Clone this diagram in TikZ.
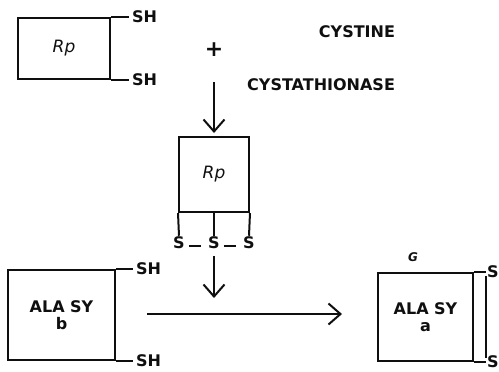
\documentclass[tikz,border=0pt]{standalone}
\usepackage{fontspec}
\setmainfont{DejaVu Sans}
\usetikzlibrary{arrows.meta}
\definecolor{figink}{RGB}{15,15,15}
\tikzset{
  bx/.style  ={draw=figink, line width=2pt, inner sep=0pt, align=center, text=figink,
               font=\fontsize{16}{17}\selectfont\bfseries},
  ln/.style  ={draw=figink, line width=2pt},
  lab/.style ={font=\fontsize{16}{17}\selectfont\bfseries, inner sep=1pt, text=figink},
  rp/.style  ={font=\fontsize{17}{18}\selectfont\mdseries\itshape},
  ptr/.style ={draw=figink, line width=2pt, -{Straight Barb[length=12pt,width=21pt]}},
}

\begin{document}
\begin{tikzpicture}[x=1pt,y=-1pt]
  \useasboundingbox (0,0) rectangle (499,372);
  \node[bx,rp,minimum width=92pt,minimum height=61pt] (rpa) at (64,48.5) {Rp};
  \draw[ln] (rpa.north east) -- ++(18,0) coordinate (rpa1);
  \draw[ln] (rpa.south east) -- ++(18,0) coordinate (rpa2);
  \node[lab,anchor=west] (sha1) at ([xshift=2pt]rpa1) {SH};
  \node[lab,anchor=west] (sha2) at ([xshift=2pt]rpa2) {SH};
  \node[lab,font=\fontsize{22}{22}\selectfont\bfseries] (plus) at (214,50) {+};
  \node[lab] (cys) at (357,32) {CYSTINE};
  \node[lab,anchor=west] (cysase) at (246,85) {CYSTATHIONASE};
  \node[bx,rp,minimum width=70pt,minimum height=75pt] (rpb) at (214,174.5) {Rp};
  \draw[ptr,shorten <=24pt,shorten >=3pt] (plus) -- (rpb);
  \node[lab] (s1) at (179,243) {S};
  \node[lab] (s2) at (214,243) {S};
  \node[lab] (s3) at (249,243) {S};
  \draw[ln] (rpb.south west) -- (s1.north);
  \draw[ln] (rpb.south) -- (s2.north);
  \draw[ln] (rpb.south east) -- (s3.north);
  \draw[ln,shorten <=3pt,shorten >=6pt] ([yshift=-3pt]s1.east) -- ([yshift=-3pt]s2.west);
  \draw[ln,shorten <=3pt,shorten >=6pt] ([yshift=-3pt]s2.east) -- ([yshift=-3pt]s3.west);
  \coordinate (mid) at (214,298);
  \draw[ptr,shorten <=6pt] (s2.south) -- (mid);
  \node[bx,minimum width=107pt,minimum height=90pt] (alb) at (61.5,315) {ALA SY\\b};
  \draw[ln] (alb.north east) -- ++(17,0) coordinate (alb1);
  \draw[ln] (alb.south east) -- ++(17,0) coordinate (alb2);
  \node[lab,anchor=west] (shb1) at ([xshift=2pt]alb1) {SH};
  \node[lab,anchor=west] (shb2) at ([xshift=2pt]alb2) {SH};
  \coordinate (rxa) at (147,314);
  \coordinate (rxb) at (342,314);
  \draw[ptr] (rxa) -- (rxb);
  \node[bx,minimum width=95pt,minimum height=88pt] (ala) at (425.5,317) {ALA SY\\a};
  \node[lab,font=\fontsize{12}{13}\selectfont\bfseries\itshape] (ga) at (413,257) {G};
  \draw[ln] (ala.north east) -- ++(12,0) coordinate (ala1);
  \draw[ln] (ala.south east) -- ++(12,0) coordinate (ala2);
  \node[lab,anchor=west,inner sep=0pt] (sa1) at ([xshift=1pt]ala1) {S};
  \node[lab,anchor=west,inner sep=0pt] (sa2) at ([xshift=1pt]ala2) {S};
  \draw[ln] ([yshift=-4pt]ala1) -- ([yshift=4pt]ala2);
\end{tikzpicture}
\end{document}
